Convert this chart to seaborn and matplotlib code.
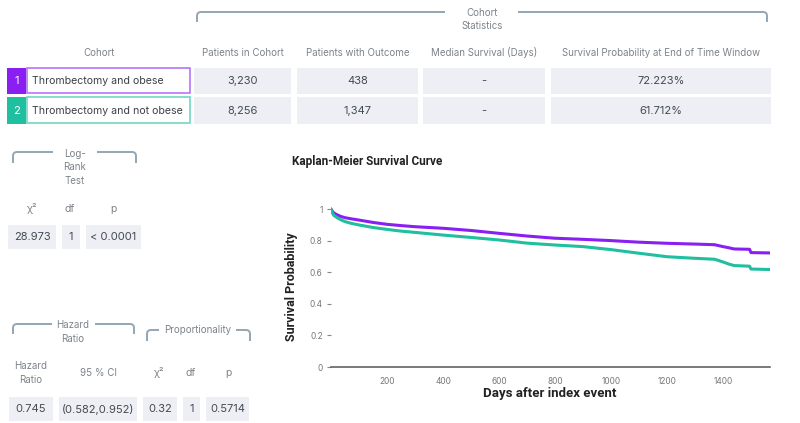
import matplotlib
matplotlib.use("Agg")
import matplotlib.pyplot as plt
from matplotlib.patches import Rectangle, PathPatch
from matplotlib.path import Path
import seaborn as sns
import pandas as pd

# Kaplan-Meier curves (days, survival probability)
days_obese = [0, 5, 10, 20, 35, 50, 75, 100, 150, 200, 250, 300, 400, 500, 600, 700,
              800, 900, 1000, 1100, 1200, 1300, 1370, 1400, 1420, 1440, 1495, 1500, 1568]
surv_obese = [1.0, 0.985, 0.975, 0.965, 0.953, 0.945, 0.937, 0.93, 0.915, 0.903, 0.895, 0.888,
              0.878, 0.864, 0.846, 0.829, 0.815, 0.808, 0.80, 0.79, 0.783, 0.778, 0.774, 0.762,
              0.755, 0.747, 0.745, 0.724, 0.722]
days_not_obese = [0, 5, 10, 20, 35, 50, 75, 100, 150, 200, 250, 300, 400, 500, 600, 700,
                  800, 900, 1000, 1100, 1200, 1300, 1370, 1400, 1420, 1440, 1495, 1500, 1568]
surv_not_obese = [1.0, 0.975, 0.96, 0.947, 0.932, 0.92, 0.908, 0.899, 0.883, 0.871, 0.86, 0.852,
                  0.835, 0.82, 0.804, 0.784, 0.772, 0.762, 0.743, 0.72, 0.698, 0.688, 0.682,
                  0.665, 0.652, 0.642, 0.638, 0.62, 0.617]

cohorts = ["Thrombectomy and obese", "Thrombectomy and not obese"]
cohort_colors = ["#8A1FF2", "#1FBF9F"]
cohort_borders = ["#B874F8", "#6FD8C2"]
stat_headers = ["Patients in Cohort", "Patients with Outcome", "Median Survival (Days)",
                "Survival Probability at End of Time Window"]
patients = ["3,230", "8,256"]
outcomes = ["438", "1,347"]
median_surv = ["-", "-"]
end_surv = ["72.223%", "61.712%"]

logrank_headers = ["χ²", "df", "p"]
logrank_values = ["28.973", "1", "< 0.0001"]
hr_values = ["0.745", "(0.582,0.952)"]
prop_headers = ["χ²", "df", "p"]
prop_values = ["0.32", "1", "0.5714"]

xticks = [0, 200, 400, 600, 800, 1000, 1200, 1400]
yticks = [0, 0.2, 0.4, 0.6, 0.8, 1]
ytick_labels = ["0", "0.2", "0.4", "0.6", "0.8", "1"]

sns.set_style("white")
plt.rcParams["font.family"] = ["Inter", "DejaVu Sans"]

W, H = 800, 423
fig = plt.figure(figsize=(8, 4.23), dpi=100)

# overlay axes in pixel coordinates for the table parts
ov = fig.add_axes([0, 0, 1, 1])
ov.set_xlim(0, W)
ov.set_ylim(H, 0)
ov.axis("off")

FILL = "#EDEFF4"
TXT = "#454a52"
HDR = "#7d838b"
BR = "#93a6b4"


def cell(x0, x1, y0, y1, text, fc=FILL, ec="none", color=TXT, ha="center", tx=None, size=8, lw=0):
    ov.add_patch(Rectangle((x0, y0), x1 - x0, y1 - y0, fc=fc, ec=ec, lw=lw))
    if tx is None:
        tx = (x0 + x1) / 2
    ov.text(tx, (y0 + y1) / 2 + 0.5, text, ha=ha, va="center", fontsize=size, color=color)


def bracket(x0, x1, y, depth, gap0, gap1, r=4):
    for pts in ([(gap0, y), (x0 + r, y), (x0, y), (x0, y + r), (x0, y + depth)],
                [(gap1, y), (x1 - r, y), (x1, y), (x1, y + r), (x1, y + depth)]):
        codes = [Path.MOVETO, Path.LINETO, Path.CURVE3, Path.CURVE3, Path.LINETO]
        ov.add_patch(PathPatch(Path(pts, codes), fc="none", ec=BR, lw=1.4))


# ---- cohort statistics table ----
bracket(197, 767, 12, 10, 445, 518)
ov.text(482, 13, "Cohort", ha="center", va="center", fontsize=7, color=HDR)
ov.text(482, 26, "Statistics", ha="center", va="center", fontsize=7, color=HDR)

ov.text(99, 53, "Cohort", ha="center", va="center", fontsize=7, color=HDR)
col_x = [(194, 291), (297, 418), (423, 545), (551, 771)]
for (a, b), h in zip(col_x, stat_headers):
    ov.text((a + b) / 2, 53, h, ha="center", va="center", fontsize=7, color=HDR)

rows_y = [(68, 94), (97, 124)]
for i, (y0, y1) in enumerate(rows_y):
    cell(7, 26, y0, y1, str(i + 1), fc=cohort_colors[i], color="white")
    cell(26.5, 189.5, y0 + 0.5, y1 - 0.5, cohorts[i], fc="white", ec=cohort_borders[i],
         ha="left", tx=32, lw=1.2, color="#3b4047", size=7.6)
    vals = [patients[i], outcomes[i], median_surv[i], end_surv[i]]
    for (a, b), v in zip(col_x, vals):
        cell(a, b, y0, y1, v)

# ---- log-rank test ----
bracket(13, 136, 152, 11, 53, 97)
for t, yy in zip(["Log-", "Rank", "Test"], [154, 167, 181]):
    ov.text(75, yy, t, ha="center", va="center", fontsize=7, color=HDR)
for h, xx in zip(logrank_headers, [32, 70, 113]):
    ov.text(xx, 209, h, ha="center", va="center", fontsize=7.5, color=HDR)
for (a, b), v in zip([(8, 56), (62, 80), (86, 141)], logrank_values):
    cell(a, b, 225, 249, v)

# ---- hazard ratio ----
bracket(13, 134, 324, 10, 52, 95)
ov.text(73, 325, "Hazard", ha="center", va="center", fontsize=7, color=HDR)
ov.text(73, 339, "Ratio", ha="center", va="center", fontsize=7, color=HDR)
ov.text(31, 366, "Hazard", ha="center", va="center", fontsize=7, color=HDR)
ov.text(31, 380, "Ratio", ha="center", va="center", fontsize=7, color=HDR)
ov.text(98, 373, "95 % CI", ha="center", va="center", fontsize=7, color=HDR)
for (a, b), v in zip([(9, 53), (59, 137)], hr_values):
    cell(a, b, 397, 421, v)

# ---- proportionality ----
bracket(147, 250, 330, 11, 159, 236)
ov.text(198, 330, "Proportionality", ha="center", va="center", fontsize=7, color=HDR)
for h, xx in zip(prop_headers, [159, 191, 228]):
    ov.text(xx, 373, h, ha="center", va="center", fontsize=7.5, color=HDR)
for (a, b), v in zip([(143, 177), (183, 200), (206, 249)], prop_values):
    cell(a, b, 397, 421, v)

# ---- Kaplan-Meier plot ----
xmax = 1568
ymax = 1.02
left, right, bottom = 331, 770, 367
top = bottom - 158 * ymax
ax = fig.add_axes([left / W, (H - bottom) / H, (right - left) / W, (bottom - top) / H])

df = pd.concat([
    pd.DataFrame({"days": days_obese, "surv": surv_obese, "cohort": cohorts[0]}),
    pd.DataFrame({"days": days_not_obese, "surv": surv_not_obese, "cohort": cohorts[1]}),
])
sns.lineplot(data=df, x="days", y="surv", hue="cohort", palette=cohort_colors,
             linewidth=2.2, legend=False, ax=ax, estimator=None, sort=False)

ax.set_xlim(0, xmax)
ax.set_ylim(0, ymax)
ax.set_xticks(xticks)
ax.set_xticklabels([""] + [str(t) for t in xticks[1:]])
ax.set_xticks([xmax], minor=True)
ax.set_yticks(yticks)
ax.set_yticklabels(ytick_labels)
for s in ["top", "right", "left"]:
    ax.spines[s].set_visible(False)
ax.spines["bottom"].set_color("#555555")
ax.spines["bottom"].set_linewidth(1.1)
ax.tick_params(axis="x", which="both", direction="out", length=4, width=1, color="#555555",
               labelsize=6, labelcolor="#777777", pad=3)
ax.tick_params(axis="y", direction="out", length=3, width=0.8, color="#888888",
               labelsize=6, labelcolor="#777777", pad=3, left=True)
ax.patch.set_alpha(0)

ax.set_xlabel("")
ax.set_ylabel("")
ov.text(292, 162, "Kaplan-Meier Survival Curve", ha="left", va="center", fontsize=8.5,
        fontweight="bold", color="#222222", family=["Roboto", "DejaVu Sans"])
ov.text(292, 287, "Survival Probability", ha="center", va="center", rotation=90, fontsize=9,
        fontweight="bold", color="#222222", family=["Roboto", "DejaVu Sans"])
ov.text(550, 394, "Days after index event", ha="center", va="center", fontsize=9.5,
        fontweight="bold", color="#222222", family=["Roboto", "DejaVu Sans"])

fig.savefig("out.png", dpi=100)
